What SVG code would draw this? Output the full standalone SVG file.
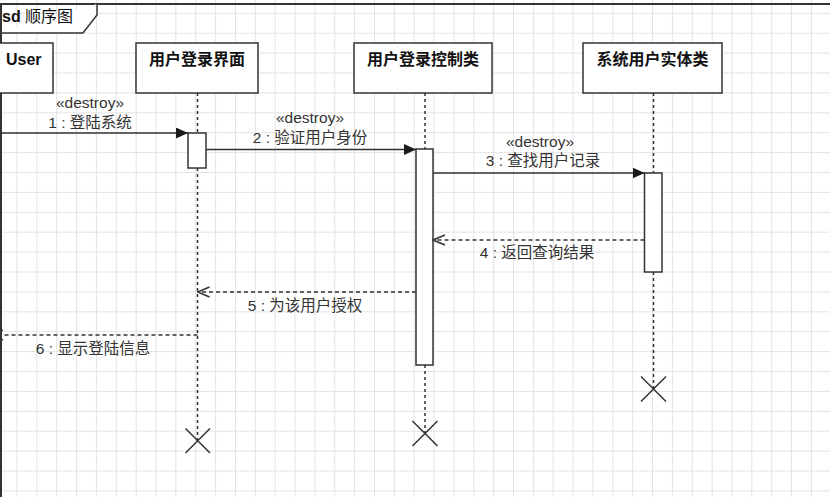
<svg xmlns="http://www.w3.org/2000/svg" width="830" height="497" viewBox="0 0 830 497">
<defs>
<pattern id="grid" x="16.5" y="12.8" width="19.86" height="19.9" patternUnits="userSpaceOnUse">
<path d="M0.5 0 V19.9 M0 0.5 H19.86" stroke="#e3e3e3" stroke-width="1" fill="none"/>
</pattern>
<marker id="block" viewBox="0 0 12 11" refX="12" refY="5.5" markerWidth="12" markerHeight="11" markerUnits="userSpaceOnUse" orient="auto">
<path d="M0 0 L12 5.5 L0 11 Z" fill="#1a1a1a"/>
</marker>
<marker id="open" viewBox="0 0 14 12" refX="13" refY="6" markerWidth="14" markerHeight="12" markerUnits="userSpaceOnUse" orient="auto">
<path d="M1 1 L13 6 L1 11" fill="none" stroke="#333" stroke-width="1.5"/>
</marker>
</defs>
<style>
.hdr{fill:#fff;stroke:#333;stroke-width:1.5}
.act{fill:#fff;stroke:#333;stroke-width:1.5}
.life{stroke:#333;stroke-width:1.5;stroke-dasharray:3 3;fill:none}
.msg{stroke:#333;stroke-width:1.5;fill:none;marker-end:url(#block)}
.ret{stroke:#333;stroke-width:1.5;fill:none;stroke-dasharray:4 3;marker-end:url(#open)}
.x{stroke:#333;stroke-width:1.5}
.ht{font-family:"Liberation Sans","Noto Sans CJK SC",sans-serif;font-size:16px;font-weight:bold;fill:#111;text-anchor:middle}
.lb{font-family:"Liberation Sans","Noto Sans CJK SC",sans-serif;font-size:15.5px;fill:#333;text-anchor:middle}
</style>
<rect x="0" y="0" width="830" height="497" fill="#fff"/>
<rect x="0" y="0" width="830" height="497" fill="url(#grid)"/>

<g id="frame">
<path d="M1 497 V4 H830" fill="none" stroke="#333" stroke-width="2"/>
<path d="M0 33 H83 L97 15 V4" fill="#fff" stroke="#333" stroke-width="1.5"/>
<text x="2" y="22" font-family="'Liberation Sans','Noto Sans CJK SC',sans-serif" font-size="16" fill="#111"><tspan font-weight="bold">sd</tspan> 顺序图</text>
</g>

<g id="user">
<rect class="hdr" x="-70" y="43" width="123" height="50"/>
<text x="6" y="65" font-family="'Liberation Sans',sans-serif" font-size="16" font-weight="bold" fill="#111">User</text>
</g>

<g id="ui">
<rect class="hdr" x="136" y="43" width="122" height="50"/>
<text class="ht" x="197" y="65">用户登录界面</text>
<path class="life" d="M197.5 93 V133 M197.5 168 V441"/>
<rect class="act" x="188" y="133" width="18" height="35"/>
<path class="x" d="M185.5 428.5 L210 453 M210 428.5 L185.5 453"/>
</g>

<g id="ctrl">
<rect class="hdr" x="354" y="43" width="138" height="50"/>
<text class="ht" x="423" y="65">用户登录控制类</text>
<path class="life" d="M425 93 V149 M425 365 V433"/>
<rect class="act" x="416" y="149" width="17" height="216"/>
<path class="x" d="M412.5 421 L437.5 446 M437.5 421 L412.5 446"/>
</g>

<g id="entity">
<rect class="hdr" x="583" y="43" width="139" height="50"/>
<text class="ht" x="652.5" y="65">系统用户实体类</text>
<path class="life" d="M653.5 93 V173 M653.5 272 V389"/>
<rect class="act" x="644.5" y="173" width="17.5" height="99"/>
<path class="x" d="M641 376.5 L666 401.5 M666 376.5 L641 401.5"/>
</g>

<g id="connectors">
<path class="msg" d="M-9 133 H188"/>
<text class="lb" x="90" y="108">«destroy»</text>
<text class="lb" x="90" y="128">1 : 登陆系统</text>

<path class="msg" d="M206 149.5 H416"/>
<text class="lb" x="310" y="123">«destroy»</text>
<text class="lb" x="310" y="143">2 : 验证用户身份</text>

<path class="msg" d="M433 173 H644.5"/>
<text class="lb" x="540" y="147">«destroy»</text>
<text class="lb" x="543" y="166">3 : 查找用户记录</text>

<path class="ret" d="M644.5 240 H433"/>
<text class="lb" x="537" y="258">4 : 返回查询结果</text>

<path class="ret" d="M416 292 H197.5"/>
<text class="lb" x="305" y="311">5 : 为该用户授权</text>

<path class="ret" d="M197.5 335 H-9"/>
<text class="lb" x="93" y="354">6 : 显示登陆信息</text>
</g>
</svg>
